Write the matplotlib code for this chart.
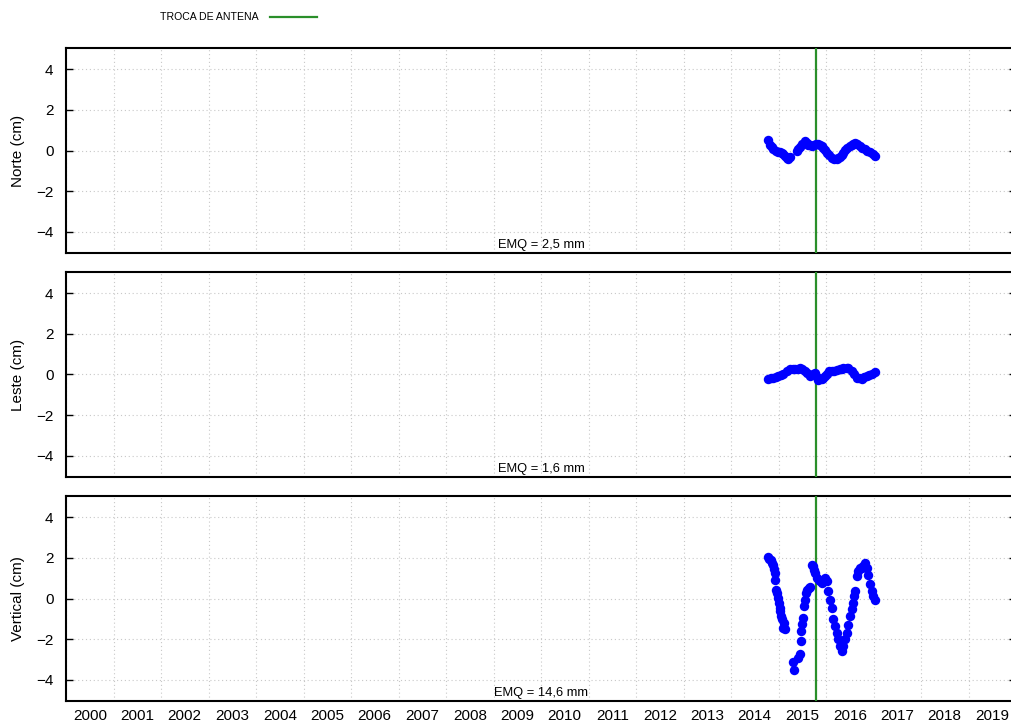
import matplotlib
matplotlib.use("Agg")
import matplotlib.pyplot as plt
from matplotlib.lines import Line2D
import numpy as np

plt.rcParams['font.family'] = ['Liberation Sans', 'DejaVu Sans']

# ---------------- data ----------------
norte_t = [2014.785, 2014.821, 2014.856, 2014.891, 2014.943, 2014.996, 2015.032, 2015.067,
           2015.102, 2015.137, 2015.172, 2015.206, 2015.242, 2015.383, 2015.418, 2015.453,
           2015.505, 2015.558, 2015.592, 2015.627, 2015.663, 2015.699, 2015.745, 2015.789,
           2015.832, 2015.874, 2015.908, 2015.943, 2015.985, 2016.027, 2016.073, 2016.120,
           2016.172, 2016.225, 2016.260, 2016.295, 2016.330, 2016.364, 2016.406, 2016.448,
           2016.495, 2016.541, 2016.576, 2016.611, 2016.663, 2016.716, 2016.768, 2016.821,
           2016.873, 2016.926, 2016.979, 2017.032]
norte_v = [0.50, 0.29, 0.15, 0.05, 0.00, -0.06, -0.09, -0.11, -0.18, -0.28, -0.36, -0.41,
           -0.31, -0.03, 0.08, 0.18, 0.32, 0.46, 0.38, 0.29, 0.25, 0.21, 0.28, 0.34,
           0.32, 0.29, 0.22, 0.13, 0.01, -0.11, -0.24, -0.36, -0.41, -0.44, -0.38, -0.31,
           -0.21, -0.11, 0.01, 0.13, 0.22, 0.29, 0.34, 0.38, 0.30, 0.21, 0.14, 0.08,
           0.00, -0.08, -0.17, -0.25]

leste_t = [2014.785, 2014.838, 2014.891, 2014.943, 2014.996, 2015.049, 2015.102, 2015.172,
           2015.242, 2015.295, 2015.348, 2015.400, 2015.453, 2015.505, 2015.558, 2015.610,
           2015.663, 2015.716, 2015.768, 2015.803, 2015.838, 2015.874, 2015.908, 2015.943,
           2015.978, 2016.013, 2016.067, 2016.120, 2016.172, 2016.225, 2016.295, 2016.330,
           2016.364, 2016.436, 2016.471, 2016.541, 2016.593, 2016.646, 2016.699, 2016.751,
           2016.804, 2016.856, 2016.909, 2016.961, 2017.032]
leste_v = [-0.21, -0.19, -0.16, -0.12, -0.08, -0.04, 0.00, 0.16, 0.28, 0.27, 0.25, 0.29,
           0.33, 0.25, 0.16, 0.05, -0.05, 0.00, 0.05, -0.10, -0.25, -0.23, -0.21, -0.15,
           -0.08, 0.04, 0.16, 0.16, 0.16, 0.20, 0.25, 0.29, 0.33, 0.33, 0.33, 0.16,
           0.00, -0.16, -0.19, -0.21, -0.13, -0.05, -0.02, 0.00, 0.11]

vert_t = [2014.785, 2014.806, 2014.836, 2014.859, 2014.878, 2014.903, 2014.920, 2014.935,
          2014.952, 2014.971, 2014.989, 2015.006, 2015.024, 2015.040, 2015.057, 2015.075,
          2015.092, 2015.110, 2015.129, 2015.300, 2015.320, 2015.414, 2015.448, 2015.465,
          2015.484, 2015.498, 2015.516, 2015.531, 2015.552, 2015.572, 2015.600, 2015.636,
          2015.661, 2015.695, 2015.730, 2015.750, 2015.770, 2015.818, 2015.853, 2015.874,
          2015.910, 2015.943, 2015.980, 2016.015, 2016.050, 2016.085, 2016.120, 2016.155,
          2016.190, 2016.225, 2016.260, 2016.295, 2016.331, 2016.365, 2016.400, 2016.435,
          2016.471, 2016.506, 2016.541, 2016.562, 2016.583, 2016.608, 2016.643, 2016.678,
          2016.713, 2016.748, 2016.783, 2016.818, 2016.853, 2016.888, 2016.923, 2016.958,
          2016.993, 2017.032]
vert_v = [2.04, 1.96, 1.88, 1.77, 1.67, 1.46, 1.26, 0.93, 0.44, 0.28, 0.03, -0.21,
          -0.46, -0.62, -0.85, -1.03, -1.44, -1.20, -1.50, -3.15, -3.53, -2.91, -2.75, -2.09,
          -1.60, -1.27, -0.95, -0.38, -0.05, 0.28, 0.41, 0.52, 0.58, 1.67, 1.58, 1.42,
          1.26, 1.01, 0.93, 0.85, 0.77, 0.85, 1.01, 0.85, 0.36, -0.05, -0.46, -1.03,
          -1.36, -1.68, -2.01, -2.34, -2.58, -2.34, -2.01, -1.68, -1.32, -0.87, -0.54, -0.21,
          0.11, 0.36, 1.09, 1.34, 1.50, 1.50, 1.62, 1.75, 1.50, 1.18, 0.69, 0.36,
          0.10, -0.05]

antenna_change = 2015.79

panels = [("Norte (cm)", norte_t, norte_v, "EMQ = 2,5 mm"),
          ("Leste (cm)", leste_t, leste_v, "EMQ = 1,6 mm"),
          ("Vertical (cm)", vert_t, vert_v, "EMQ = 14,6 mm")]

years = list(range(2000, 2020))
yticks = [-4, -2, 0, 2, 4]

# ---------------- figure ----------------
W, H = 1011, 724
fig = plt.figure(figsize=(W / 100, H / 100), dpi=100)

left_px, right_px = 66, 1016
tops = [48, 272, 496]
height_px = 205

green = '#2a8f2a'

for i, (ylabel, t, v, emq) in enumerate(panels):
    top = tops[i]
    ax = fig.add_axes([left_px / W, 1 - (top + height_px) / H,
                       (right_px - left_px) / W, height_px / H])
    ax.set_xlim(2000, 2020)
    ax.set_ylim(-5.05, 5.05)
    ax.axvline(antenna_change, color=green, lw=1.6, zorder=3)
    ax.plot(t, v, 'o', color='#0000ff', markersize=6.8, markeredgewidth=0, zorder=4)

    ax.set_xticks(years)
    ax.set_xticks([y + 0.5 for y in years], minor=True)
    ax.tick_params(axis='x', which='major', length=0, labelbottom=False)
    if i == 2:
        ax.set_xticklabels([str(y) for y in years], minor=True)
        ax.tick_params(axis='x', which='minor', length=0, labelsize=11, pad=6)
    else:
        ax.tick_params(axis='x', which='minor', length=0, labelbottom=False)

    ax.set_yticks(yticks)
    ax.set_yticklabels([str(y).replace('-', '\u2212') for y in yticks])
    ax.tick_params(axis='y', direction='in', length=5, width=1, left=True, right=True,
                   labelsize=11, pad=9)
    ax.grid(True, which='major', color='#c8c8c8', linestyle=(0, (1, 2.5)), linewidth=0.8)
    ax.set_axisbelow(True)
    for s in ax.spines.values():
        s.set_linewidth(1.5)
    ax.set_ylabel(ylabel, fontsize=11)
    ax.yaxis.set_label_coords(-41 / (right_px - left_px), 0.5)
    ax.text(0.5, 8 / height_px, emq, transform=ax.transAxes, ha='center', va='center',
            fontsize=9.3)

# legend
fig.text(160 / W, 1 - 16.5 / H, "TROCA DE ANTENA", fontsize=7.6, ha='left', va='center')
fig.add_artist(Line2D([270 / W, 317 / W], [1 - 16.5 / H, 1 - 16.5 / H], color=green,
                      lw=1.6, transform=fig.transFigure))

fig.savefig("out.png", dpi=100)
